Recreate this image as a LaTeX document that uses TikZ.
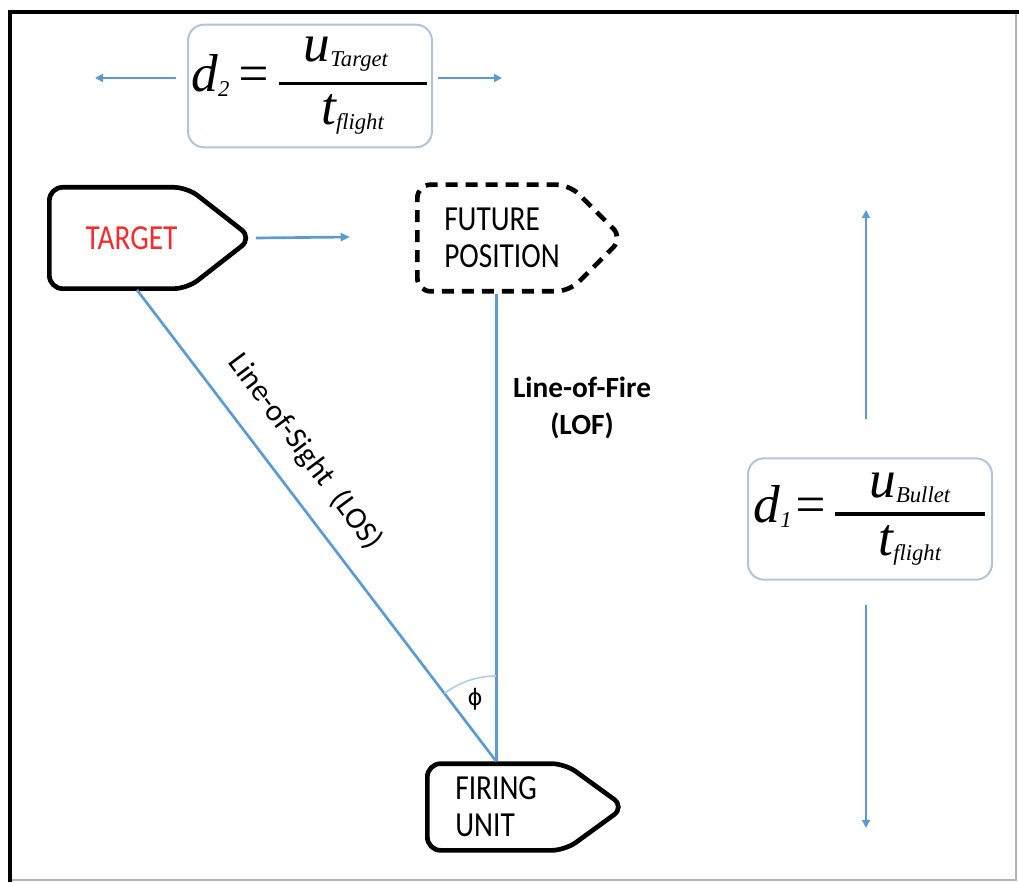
\documentclass[tikz,border=0pt]{standalone}
\usepackage{fontspec}
\usepackage{amsmath}
\setmainfont{Carlito}
\newfontfamily\eqfont{Liberation Serif}
\newfontfamily\phifont{DejaVu Sans}
\usetikzlibrary{shapes.symbols,arrows.meta,angles}
\definecolor{lineblue}{RGB}{91,155,213}
\definecolor{boxgray}{RGB}{176,196,222}
\definecolor{targetred}{RGB}{250,40,40}
\newcommand{\eqtxt}[1]{\mbox{\eqfont\itshape #1}}
\newcommand{\eqsub}[1]{\mbox{\eqfont\itshape\fontsize{17}{17}\selectfont #1}}
\newcommand{\tallcaps}[1]{\scalebox{1}[1.2]{#1}}

\begin{document}
\begin{tikzpicture}[x=0.75pt,y=0.75pt,
  sigbox/.style={signal, signal to=east, draw=black, line width=3.5pt, rounded corners=10pt,
    font=\fontsize{22}{28}\selectfont, align=left, anchor=west},
  eqbox/.style={draw=boxgray, line width=1.5pt, rounded corners=12pt, inner sep=2pt,
    minimum width=183pt, font=\fontsize{40}{44}\selectfont},
  bluelink/.style={draw=lineblue, line width=2pt},
  spanarrow/.style={draw=lineblue, line width=1.2pt, -{Triangle[length=6pt,width=6pt]}}]

\useasboundingbox (0,0) rectangle (1019,882);

% outer frame
\draw[gray!60, line width=1pt] (10,2) -- (1016,2) -- (1016,870);
\draw[line width=3.5pt] (10,0) -- (10,870) -- (1019,870);

% formula boxes
\node[eqbox, minimum height=92pt] (dtwo) at (310,796)
  {$\eqtxt{d}_{\eqsub{2}}\,\eqtxt{=}\,\genfrac{}{}{2.5pt}{0}{\makebox[111pt]{$\eqtxt{u}_{\eqsub{Target}}$\hspace{10pt}}}{\eqtxt{t}_{\eqsub{flight}}}$};
\node[eqbox, minimum height=91pt] (done) at (870,363)
  {$\eqtxt{d}_{\eqsub{1}}\eqtxt{=}\,\genfrac{}{}{2.5pt}{0}{\makebox[112pt]{$\eqtxt{u}_{\eqsub{Bullet}}$}}{\eqtxt{t}_{\eqsub{flight}}}$};

% span arrows
\coordinate (dtwoleft) at (95,804);
\coordinate (dtworight) at (502,804);
\draw[spanarrow, shorten <=8pt] (dtwo.west |- dtwoleft) -- (dtwoleft);
\draw[spanarrow, shorten <=4pt] (dtwo.east |- dtworight) -- (dtworight);
\coordinate (donetop) at (866,672);
\coordinate (donebot) at (866,54);
\draw[spanarrow, shorten <=29pt] (done.north -| donetop) -- (donetop);
\draw[spanarrow, shorten <=18pt] (done.south -| donebot) -- (donebot);

% positions
\node[sigbox, signal pointer angle=76, minimum width=152pt, minimum height=76pt,
  text=targetred] (target) at (47,644) {\hspace*{20pt}\tallcaps{TARGET}};
\node[sigbox, signal pointer angle=90, minimum width=154pt, minimum height=80pt,
  dashed, dash pattern=on 9pt off 6pt] (future) at (415,644)
  {\hspace*{13pt}\tallcaps{FUTURE}\\\hspace*{13pt}\tallcaps{POSITION}};
\node[sigbox, signal pointer angle=72, minimum width=148pt, minimum height=65pt] (firing) at (425,75)
  {\tallcaps{FIRING}\\\tallcaps{UNIT}};

% target motion
\coordinate (targetmove) at (350,645);
\draw[bluelink, -{Triangle[length=7pt,width=6pt]}] (target.east) -- (targetmove);

% sight and fire lines
\coordinate (apex) at (firing.north);
\coordinate (firetop) at (future.south -| apex);
\coordinate (sightstart) at (137,592);
\draw[bluelink] (sightstart) -- (apex);
\draw[bluelink] (firetop) -- (apex);
\pic[draw=lineblue!50, line width=1.2pt, angle radius=64pt] {angle = firetop--apex--sightstart};
\node[font=\phifont\fontsize{17}{20}\selectfont] (phi) at (475,183) {ϕ};

% labels
\node[rotate=-53.2, font=\fontsize{23}{28}\selectfont] (loslabel) at (305,430) {Line-of-Sight\ \ (LOS)};
\node[font=\bfseries\fontsize{22}{28}\selectfont, align=center] (loflabel) at (582,474) {Line-of-Fire\\(LOF)};
\end{tikzpicture}
\end{document}
